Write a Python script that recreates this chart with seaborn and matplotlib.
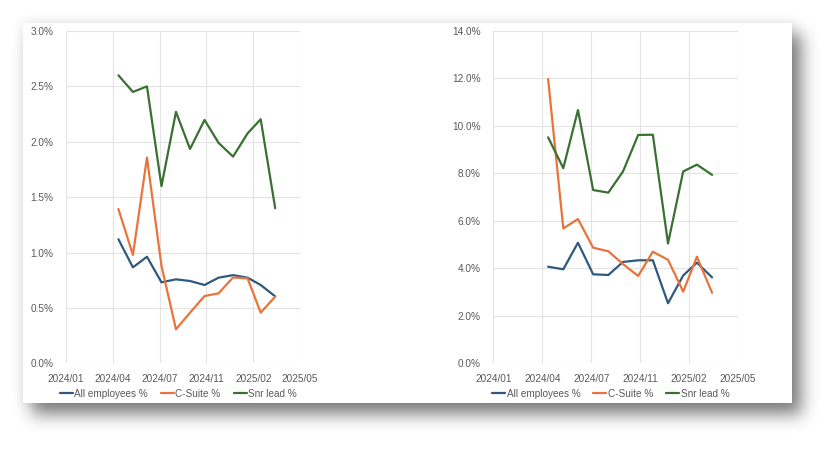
import numpy as np
import pandas as pd
import matplotlib
matplotlib.use("Agg")
import matplotlib.pyplot as plt
import matplotlib.dates as mdates
from matplotlib.patches import Rectangle
import seaborn as sns

# monthly data points, May 2024 .. Apr 2025
months = pd.date_range("2024-05-01", periods=12, freq="MS")
series_names = ["All employees %", "C-Suite %", "Snr lead %"]

# left chart (%)
left_all = [1.12, 0.866, 0.962, 0.731, 0.758, 0.743, 0.707, 0.773, 0.796, 0.773, 0.707, 0.604]
left_csuite = [1.393, 0.978, 1.857, 0.88, 0.307, 0.457, 0.607, 0.632, 0.775, 0.767, 0.457, 0.602]
left_snr = [2.60, 2.45, 2.50, 1.60, 2.27, 1.935, 2.197, 1.99, 1.866, 2.076, 2.203, 1.40]

# right chart (%)
right_all = [4.07, 3.96, 5.08, 3.75, 3.72, 4.27, 4.34, 4.34, 2.53, 3.70, 4.24, 3.62]
right_csuite = [11.98, 5.68, 6.08, 4.87, 4.72, 4.18, 3.68, 4.70, 4.36, 3.02, 4.49, 2.97]
right_snr = [9.52, 8.22, 10.67, 7.30, 7.19, 8.08, 9.62, 9.63, 5.05, 8.08, 8.37, 7.94]

colors = ["#2E5A80", "#E8743B", "#3A7032"]
text_col = "#595959"

sns.set_theme(style="white")
plt.rcParams["font.family"] = ["Liberation Sans", "DejaVu Sans"]

W, H = 839, 450
fig = plt.figure(figsize=(W / 100, H / 100), dpi=100)
fig.patch.set_facecolor("white")

# drop shadow behind the white card
card = (23, 23, 792, 403)  # x0, y0, x1, y1 in pixels (top-left origin)
yy, xx = np.mgrid[0:H, 0:W]
mask = ((xx >= card[0] + 9) & (xx <= card[2] + 9) &
        (yy >= card[1] + 11) & (yy <= card[3] + 11)).astype(float)
k = np.exp(-0.5 * (np.arange(-24, 25) / 8.0) ** 2)
k /= k.sum()
blur = np.apply_along_axis(lambda r: np.convolve(r, k, mode="same"), 1, mask)
blur = np.apply_along_axis(lambda c: np.convolve(c, k, mode="same"), 0, blur)
halo = ((xx >= card[0] - 2) & (xx <= card[2] + 2) &
        (yy >= card[1] - 2) & (yy <= card[3] + 2)).astype(float)
k2 = np.exp(-0.5 * (np.arange(-15, 16) / 5.0) ** 2)
k2 /= k2.sum()
halo = np.apply_along_axis(lambda r: np.convolve(r, k2, mode="same"), 1, halo)
halo = np.apply_along_axis(lambda c: np.convolve(c, k2, mode="same"), 0, halo)
alpha = np.clip(blur * 0.62 + halo * 0.08, 0, 1)
img = np.zeros((H, W, 4))
img[..., :3] = 0.25
img[..., 3] = alpha
bg = fig.add_axes([0, 0, 1, 1], zorder=-2)
bg.imshow(img, extent=(0, W, H, 0), interpolation="bilinear")
bg.add_patch(Rectangle((card[0], card[1]), card[2] - card[0], card[3] - card[1],
                       facecolor="white", edgecolor="none"))
bg.set_xlim(0, W)
bg.set_ylim(H, 0)
bg.axis("off")

start = pd.Timestamp("2024-01-10")
xticks = [start + pd.Timedelta(days=100 * i) for i in range(6)]


def make_df(a, c, s):
    rows = []
    for name, vals in zip(series_names, [a, c, s]):
        for d, v in zip(months, vals):
            rows.append({"date": d, "value": v, "series": name})
    return pd.DataFrame(rows)


def draw(rect, df, ymax, ystep):
    l, r, t, b = rect
    ax = fig.add_axes([l / W, 1 - b / H, (r - l) / W, (b - t) / H])
    ax.set_facecolor("none")
    sns.lineplot(data=df, x="date", y="value", hue="series", palette=colors,
                 linewidth=1.6, ax=ax)
    ax.set_xlim(xticks[0], xticks[-1])
    ax.set_ylim(0, ymax)
    ax.set_xticks(xticks)
    ax.xaxis.set_major_formatter(mdates.DateFormatter("%Y/%m"))
    ax.set_yticks(np.arange(0, ymax + ystep / 2, ystep))
    ax.yaxis.set_major_formatter(matplotlib.ticker.FuncFormatter(lambda v, p: f"{v:.1f}%"))
    ax.grid(True, color="#E3E3E3", linewidth=0.8)
    for sp in ax.spines.values():
        sp.set_visible(False)
    ax.tick_params(axis="both", length=0, labelsize=7.2, labelcolor=text_col)
    ax.tick_params(axis="y", pad=9)
    ax.tick_params(axis="x", pad=8)
    ax.set_xlabel("")
    ax.set_ylabel("")
    ax.legend(loc="upper center", bbox_to_anchor=(0.48, -0.065), ncol=3, frameon=False,
              fontsize=7.2, labelcolor=text_col, handlelength=1.3, handletextpad=0.15,
              columnspacing=1.3, borderaxespad=0)
    return ax


draw((66, 300, 31, 363.3), make_df(left_all, left_csuite, left_snr), 3.0, 0.5)
draw((493.3, 738, 31, 363.3), make_df(right_all, right_csuite, right_snr), 14.0, 2.0)

fig.savefig("out.png", dpi=100)
